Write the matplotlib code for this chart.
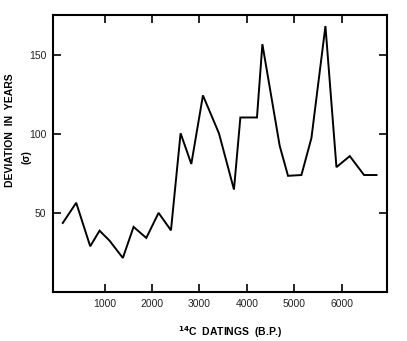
import matplotlib
matplotlib.use("Agg")
import matplotlib.pyplot as plt

# Data
dating_bp = [120, 403, 698, 895, 1105, 1386, 1612, 1880, 2139, 2400,
             2603, 2829, 3074, 3411, 3728, 3863, 4213, 4327, 4692, 4867,
             5150, 5361, 5656, 5888, 6169, 6470, 6732]
deviation = [43.6, 56.4, 28.8, 38.7, 32.4, 21.4, 41.1, 34.1, 50.0, 38.9,
             100.5, 81.0, 124.5, 100.5, 64.8, 110.5, 110.5, 157.0, 92.5, 73.5,
             74.0, 97.5, 168.5, 79.0, 86.0, 74.0, 74.0]
xticks = [1000, 2000, 3000, 4000, 5000, 6000]
yticks = [50, 100, 150]

plt.rcParams['font.family'] = ['Liberation Sans', 'DejaVu Sans']

fig = plt.figure(figsize=(4.07, 3.41), dpi=100)
ax = fig.add_axes([53.3/407, 1-291.7/341, (387.3-53.3)/407, (291.7-15)/341])

ax.plot(dating_bp, deviation, color='black', lw=1.4, solid_joinstyle='miter')

ax.set_xlim(-80, 6960)
ax.set_ylim(0, 175.5)
ax.set_xticks(xticks)
ax.set_yticks(yticks)
ax.tick_params(direction='in', length=5.5, width=1.2, top=True, right=True,
               labelsize=7.5, pad=5, colors='black')
for lab in ax.get_xticklabels() + ax.get_yticklabels():
    lab.set_color('#222222')
for s in ax.spines.values():
    s.set_linewidth(1.5)

fig.text(10/407, 1-130/341, "DEVIATION  IN  YEARS", rotation=90,
         ha='center', va='center', fontsize=7.5, fontweight='bold')
fig.text(27/407, 1-157/341, "(σ)", rotation=90,
         ha='center', va='center', fontsize=7.5, fontweight='bold')
fig.text(230/407, 1-332/341, r"$^{\mathbf{14}}$C  DATINGS  (B.P.)",
         ha='center', va='center', fontsize=7.5, fontweight='bold')

fig.savefig("out.png", dpi=100, facecolor='white')
